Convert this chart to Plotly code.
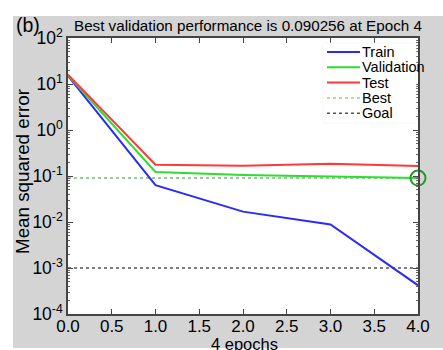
import plotly.graph_objects as go

epochs = [0, 1, 2, 3, 4]
train = [15.0, 0.063, 0.0168, 0.0088, 0.00042]
validation = [15.5, 0.122, 0.105, 0.097, 0.090256]
test = [16.0, 0.175, 0.168, 0.185, 0.165]
best_value = 0.090256
best_epoch = 4
goal_value = 0.001
legend_labels = ["Train", "Validation", "Test", "Best", "Goal"]
y_tickvals = [1e-4, 1e-3, 1e-2, 1e-1, 1e0, 1e1, 1e2]
y_ticktext = ["10<sup>-4</sup>", "10<sup>-3</sup>", "10<sup>-2</sup>", "10<sup>-1</sup>",
              "10<sup>0</sup>", "10<sup>1</sup>", "10<sup>2</sup>"]

W, H = 443, 350
L, R, T, B = 68, 25, 38, 36
pw, ph = W - L - R, H - T - B

def px(x):
    return (x - L) / pw

def py(y):
    return (H - B - y) / ph

FONT = "Liberation Sans, Arial, sans-serif"
c_train, c_val, c_test = "#2a2aff", "#2edd2e", "#ff3838"
c_best, c_goal, c_circ = "#99cc99", "#555555", "#229922"

fig = go.Figure()
fig.add_trace(go.Scatter(x=[epochs[0], epochs[-1]], y=[best_value, best_value], mode="lines",
                         line=dict(color=c_best, width=2, dash="dot"), name="Best"))
fig.add_trace(go.Scatter(x=[epochs[0], epochs[-1]], y=[goal_value, goal_value], mode="lines",
                         line=dict(color=c_goal, width=1.5, dash="dot"), name="Goal"))
fig.add_trace(go.Scatter(x=epochs, y=train, mode="lines", line=dict(color=c_train, width=2), name="Train"))
fig.add_trace(go.Scatter(x=epochs, y=validation, mode="lines", line=dict(color=c_val, width=2), name="Validation"))
fig.add_trace(go.Scatter(x=epochs, y=test, mode="lines", line=dict(color=c_test, width=2), name="Test"))
fig.add_trace(go.Scatter(x=[best_epoch], y=[best_value], mode="markers",
                         marker=dict(symbol="circle-open", size=15, color=c_circ, line=dict(width=2)),
                         name="Best point", cliponaxis=False))

shapes = []
# white strips outside the grey figure panel
shapes.append(dict(type="rect", xref="paper", yref="paper", x0=px(0), x1=px(W), y0=py(16), y1=py(-5),
                   fillcolor="white", line=dict(width=0), layer="below"))
shapes.append(dict(type="rect", xref="paper", yref="paper", x0=px(-5), x1=px(13), y0=py(H + 5), y1=py(-5),
                   fillcolor="white", line=dict(width=0), layer="below"))
shapes.append(dict(type="rect", xref="paper", yref="paper", x0=px(0), x1=px(W), y0=py(H + 5), y1=py(348),
                   fillcolor="white", line=dict(width=0), layer="below"))
# manual legend
shapes.append(dict(type="rect", xref="paper", yref="paper", x0=px(323), x1=px(416), y0=py(123), y1=py(43),
                   fillcolor="white", line=dict(width=0.5, color="#eeeeee")))
annotations = []
styles = [(c_train, "solid", 2), (c_val, "solid", 2), (c_test, "solid", 2), (c_best, "dot", 1.5), (c_goal, "dot", 1.5)]
ys = [52, 67.3, 82.6, 98, 113.3]
for lab, (col, dash, w), yy in zip(legend_labels, styles, ys):
    shapes.append(dict(type="line", xref="paper", yref="paper", x0=px(327), x1=px(360), y0=py(yy), y1=py(yy),
                       line=dict(color=col, width=w, dash=dash)))
    annotations.append(dict(text=lab, xref="paper", yref="paper", x=px(360), y=py(yy), xanchor="left",
                            yanchor="middle", showarrow=False, font=dict(family=FONT, size=14.5, color="black")))

annotations.append(dict(text="(b)", xref="paper", yref="paper", x=px(14), y=py(25), xanchor="left",
                        yanchor="middle", showarrow=False, font=dict(family=FONT, size=19.5, color="black")))
annotations.append(dict(text="Best validation performance is 0.090256 at Epoch 4", xref="paper", yref="paper",
                        x=px(247.5), y=py(25), xanchor="center", yanchor="middle", showarrow=False,
                        font=dict(family=FONT, size=15.2, color="black")))
# axis titles
annotations.append(dict(text="4 epochs", xref="paper", yref="paper", x=px(245), y=py(343.5), xanchor="center",
                        yanchor="middle", showarrow=False, font=dict(family=FONT, size=16.5, color="black")))
annotations.append(dict(text="Mean squared error", xref="paper", yref="paper", x=px(22), y=py(172),
                        xanchor="center", yanchor="middle", textangle=-90, showarrow=False,
                        font=dict(family=FONT, size=18.8, color="black")))

fig.update_layout(
    width=W, height=H,
    margin=dict(l=L, r=R, t=T, b=B),
    paper_bgcolor="#d4d4d4", plot_bgcolor="white",
    showlegend=False,
    font=dict(family=FONT, size=17, color="black"),
    shapes=shapes, annotations=annotations,
    xaxis=dict(range=[0, 4], dtick=0.5, tickformat=".1f", ticks="inside", ticklen=5, tickcolor="#444",
               showline=True, linecolor="#444", linewidth=1.5, mirror="ticks", showgrid=False, zeroline=False,
               automargin=False, ticklabelstandoff=-4, tickfont=dict(size=17)),
    yaxis=dict(type="log", range=[-4, 2], tickvals=y_tickvals, ticktext=y_ticktext, ticks="inside", ticklen=5,
               tickcolor="#444", showline=True, linecolor="#444", linewidth=1.5, mirror="ticks",
               showgrid=False, zeroline=False, tickfont=dict(size=17.5), automargin=False,
               minor=dict(ticks="inside", ticklen=2.5, tickcolor="#666", showgrid=False, dtick="D1")),
)

fig.write_html("out.html")
